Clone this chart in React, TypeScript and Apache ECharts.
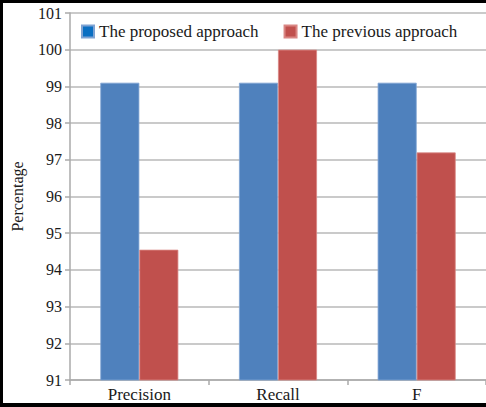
import React, { useEffect, useRef } from "react";
import * as echarts from "echarts";

const categories = ["Precision", "Recall", "F"];
const proposed = [99.1, 99.1, 99.1];
const previous = [94.55, 100, 97.2];
const seriesNames = ["The proposed approach", "The previous approach"];

const FONT = "Liberation Serif";

export default function App() {
  const ref = useRef<HTMLDivElement>(null);
  useEffect(() => {
    const chart = echarts.init(ref.current!, null, { renderer: "svg" });
    chart.setOption({
      animation: false,
      backgroundColor: "#ffffff",
      textStyle: { fontFamily: FONT },
      grid: { left: 70, top: 13, width: 419, height: 367 },
      legend: {
        left: 76,
        top: 18,
        itemWidth: 12,
        itemHeight: 12,
        itemGap: 25,
        icon: "rect",
        textStyle: { fontFamily: FONT, fontSize: 17, color: "#1a1a1a" },
        data: [
          { name: seriesNames[0], itemStyle: { color: "#0a6fc2" } },
          { name: seriesNames[1], itemStyle: { color: "#c0504d" } },
        ],
      },
      xAxis: {
        type: "category",
        data: categories,
        axisLine: { lineStyle: { color: "#aaaaaa", width: 1.5 } },
        axisTick: { show: true, length: 5, lineStyle: { color: "#aaaaaa", width: 1.5 } },
        axisLabel: { show: true, fontFamily: FONT, fontSize: 17, color: "#1a1a1a", margin: 6 },
      },
      yAxis: {
        type: "value",
        min: 91,
        max: 101,
        interval: 1,
        name: "Percentage",
        nameLocation: "middle",
        nameRotate: 90,
        nameGap: 45,
        nameTextStyle: { fontFamily: FONT, fontSize: 16, color: "#1a1a1a" },
        axisLine: { show: true, lineStyle: { color: "#aaaaaa", width: 1.5 } },
        axisTick: { show: true, length: 5, lineStyle: { color: "#aaaaaa", width: 1.5 } },
        axisLabel: { show: true, fontFamily: FONT, fontSize: 16, color: "#1a1a1a", margin: 8 },
        splitLine: { lineStyle: { color: "#b8b8b8", width: 1.5 } },
      },
      series: [
        {
          name: seriesNames[0],
          type: "bar",
          data: proposed,
          barWidth: 39,
          barGap: "0%",
          itemStyle: { color: "#4f81bd", borderColor: "#7fa3d3", borderWidth: 0.8 },
        },
        {
          name: seriesNames[1],
          type: "bar",
          data: previous,
          barWidth: 39,
          barGap: "0%",
          itemStyle: { color: "#c0504d", borderColor: "#d98683", borderWidth: 0.8 },
        },
      ],
      graphic: [
        { type: "rect", shape: { x: 0, y: 0, width: 486, height: 3 }, style: { fill: "#000" }, z: 100 },
        { type: "rect", shape: { x: 0, y: 0, width: 3, height: 407 }, style: { fill: "#000" }, z: 100 },
        { type: "rect", shape: { x: 0, y: 403, width: 486, height: 4 }, style: { fill: "#000" }, z: 100 },
      ],
    });
    return () => chart.dispose();
  }, []);
  return (
    <div
      ref={ref}
      style={{ position: "fixed", left: 0, top: 0, width: 486, height: 407 }}
    />
  );
}
